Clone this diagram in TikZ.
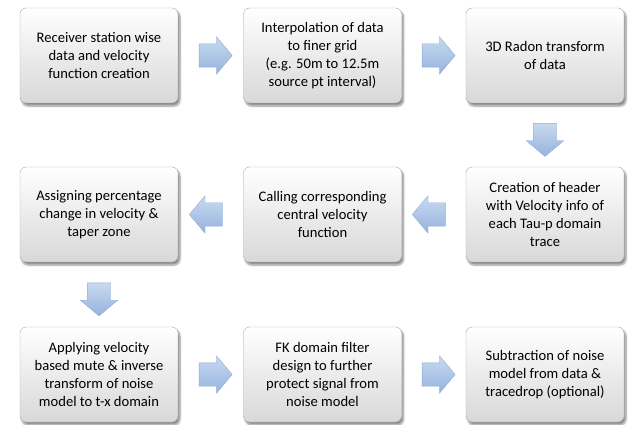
\documentclass[tikz,border=0pt]{standalone}
\usepackage{fontspec}
\setmainfont{Carlito}
\usetikzlibrary{positioning,calc,shapes.arrows,shadows.blur}
\definecolor{boxbot}{HTML}{D8D8D8}
\definecolor{boxline}{HTML}{A8A8A8}
\definecolor{arrtop}{HTML}{C8D9F0}
\definecolor{arrbot}{HTML}{95B3DD}
\definecolor{arrline}{HTML}{8FACD6}

\begin{document}
\begin{tikzpicture}[x=1pt,y=-1pt,
		procbox/.style={draw=boxline, rounded corners=6pt, top color=white, bottom color=boxbot,
			minimum width=158pt, minimum height=95pt, align=center,
			font=\fontsize{14.6}{18}\selectfont,
			blur shadow={shadow xshift=2pt, shadow yshift=-3pt, shadow blur steps=6, shadow opacity=45}},
		blockarrow/.style={single arrow, draw=arrline, top color=arrtop, bottom color=arrbot,
			minimum height=33pt, inner xsep=0pt, inner ysep=11.5pt,
			single arrow head extend=7pt, single arrow tip angle=100},
		downarrow/.style={blockarrow, shape border rotate=270, inner xsep=11.5pt, inner ysep=0pt}]
		\useasboundingbox (0,0) rectangle (630,425);
		% first row
		\node[procbox] (recv) at (99,55.5) {Receiver station wise\\data and velocity\\function creation};
		\node[procbox] (interp) at (322.5,55.5) {Interpolation of data\\to finer grid\\(e.g. 50m to 12.5m\\source pt interval)};
		\node[procbox] (radon) at (545,55.5) {3D Radon transform\\of data};
		% second row
		\node[procbox] (header) at (545,214.5) {Creation of header\\with Velocity info of\\each Tau-p domain\\trace};
		\node[procbox] (calling) at (322.5,214.5) {Calling corresponding\\central velocity\\function};
		\node[procbox] (assign) at (99,214.5) {Assigning percentage\\change in velocity \&\\taper zone};
		% third row
		\node[procbox] (mute) at (99,374.5) {Applying velocity\\based mute \& inverse\\transform of noise\\model to t-x domain};
		\node[procbox] (fk) at (322.5,374.5) {FK domain filter\\design to further\\protect signal from\\noise model};
		\node[procbox] (subtr) at (545,374.5) {Subtraction of noise\\model from data \&\\tracedrop (optional)};
		% block arrows
		\node[blockarrow] (a1) at ($(recv.east)!0.5!(interp.west)$) {};
		\node[blockarrow] (a2) at ($(interp.east)!0.5!(radon.west)$) {};
		\node[downarrow] (a3) at ($(radon.south)!0.5!(header.north)$) {};
		\node[blockarrow, shape border rotate=180] (a4) at ($(header.west)!0.5!(calling.east)$) {};
		\node[blockarrow, shape border rotate=180] (a5) at ($(calling.west)!0.5!(assign.east)$) {};
		\node[downarrow] (a6) at ($(assign.south)!0.5!(mute.north)$) {};
		\node[blockarrow] (a7) at ($(mute.east)!0.5!(fk.west)$) {};
		\node[blockarrow] (a8) at ($(fk.east)!0.5!(subtr.west)$) {};
	\end{tikzpicture}
\end{document}
